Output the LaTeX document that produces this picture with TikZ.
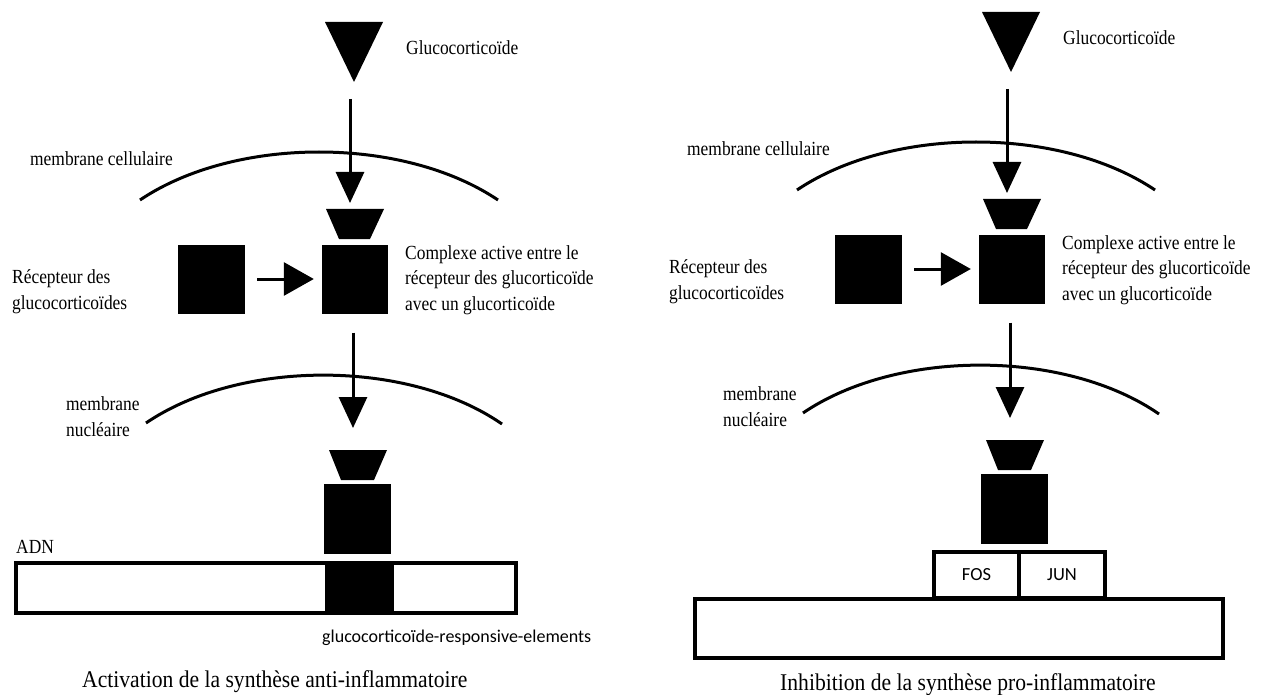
\documentclass[tikz,border=0pt]{standalone}
\usepackage{fontspec}
\setmainfont{Liberation Serif}[FakeStretch=0.87]
\newfontfamily\calib{Carlito}
\newfontfamily\titlefont{Liberation Serif}[FakeStretch=0.9]
\usetikzlibrary{arrows.meta}
\tikzset{
  blk/.style={fill=black, draw=none, inner sep=0pt},
  lbl/.style={inner sep=0pt, anchor=base west, font=\fontsize{20}{25.5}\selectfont, align=left},
  ttl/.style={inner sep=0pt, anchor=base west, font=\titlefont\fontsize{24}{28}\selectfont},
  membr/.style={line width=3pt},
  varr/.style={line width=3pt, -{Triangle[length=31pt 0 0,width=28pt 0 0]}},
  harr/.style={line width=3pt, -{Triangle[length=30pt 0 0,width=33pt 0 0]}},
  box/.style={draw, line width=3.5pt, inner sep=0pt, fill=white},
  sanslbl/.style={inner sep=0pt, font=\calib\fontsize{18}{20}\selectfont},
}
\newcommand\paneltop[1]{%
  % glucocorticoid triangle
  \fill (325,22) -- (383,22) -- (354,82) -- cycle;
  \coordinate (#1gtail) at (350,99);
  \coordinate (#1ghead) at (350,203);
  \node[lbl] (#1glab) at (406,55) {Glucocorticoïde};
  % cell membrane
  \draw[membr] (140,200) .. controls (235,136) and (403,136) .. (498,200);
  \node[lbl] (#1mc) at (30,166) {membrane cellulaire};
  \draw[varr] (#1gtail) -- (#1ghead);
  % bound glucocorticoid cap
  \fill (326,209) -- (384,209) -- (370,239) -- (339,239) -- cycle;
  % receptor and complex
  \node[blk, minimum width=67pt, minimum height=69pt] (#1rec) at (211.5,279) {};
  \node[blk, minimum width=66pt, minimum height=69pt] (#1cx) at (355,279) {};
  \draw[harr] ([xshift=12pt]#1rec.east) -- ([xshift=-8pt]#1cx.west);
  \node[lbl] (#1reclab) at (12,309) {Récepteur des\\glucocorticoïdes};
  \node[lbl] (#1cxlab) at (405,310) {Complexe active entre le\\récepteur des glucorticoïde\\avec un glucorticoïde};
  % nuclear membrane
  \coordinate (#1nhead) at (353,428);
  \draw[membr] (146,423) .. controls (240,359) and (408,359) .. (502,424);
  \node[lbl] (#1mn) at (66,436) {membrane\\nucléaire};
  \draw[varr] ([yshift=-19pt]#1cx.south -| #1nhead) -- (#1nhead);
  % complex in nucleus
  \fill (329,450) -- (387,450) -- (374,480) -- (341,480) -- cycle;
  \node[blk, minimum width=67pt, minimum height=70pt] (#1sq) at (357.5,519) {};
}
\begin{document}
\begin{tikzpicture}[x=1pt, y=-1pt]
\useasboundingbox (0,0) rectangle (1263,695);
% ---------- left panel ----------
\paneltop{L}
\node[lbl] (adn) at (16,553) {ADN};
\node[box, minimum width=500pt, minimum height=50pt] (dna) at (266,588) {};
\node[blk, minimum width=69pt, minimum height=53.5pt] (gre) at (359.5,588) {};
\node[sanslbl, anchor=base west] (grelab) at (322,642) {glucocorticoïde-responsive-elements};
\node[ttl] (ttlL) at (82,687) {Activation de la synthèse anti-inflammatoire};
% ---------- right panel ----------
\begin{scope}[shift={(657,-10)}]
\paneltop{R}
\end{scope}
\node[box, minimum width=528pt, minimum height=59pt] (base) at (959,628.5) {};
\node[box, minimum width=85pt, minimum height=46pt, font=\calib\fontsize{18.5}{20}\selectfont] (fos) at (976.5,575) {FOS};
\node[box, minimum width=86pt, minimum height=46pt, font=\calib\fontsize{18.5}{20}\selectfont] (jun) at (1062,575) {JUN};
\node[ttl] (ttlR) at (780,690) {Inhibition de la synthèse pro-inflammatoire};
\end{tikzpicture}
\end{document}
